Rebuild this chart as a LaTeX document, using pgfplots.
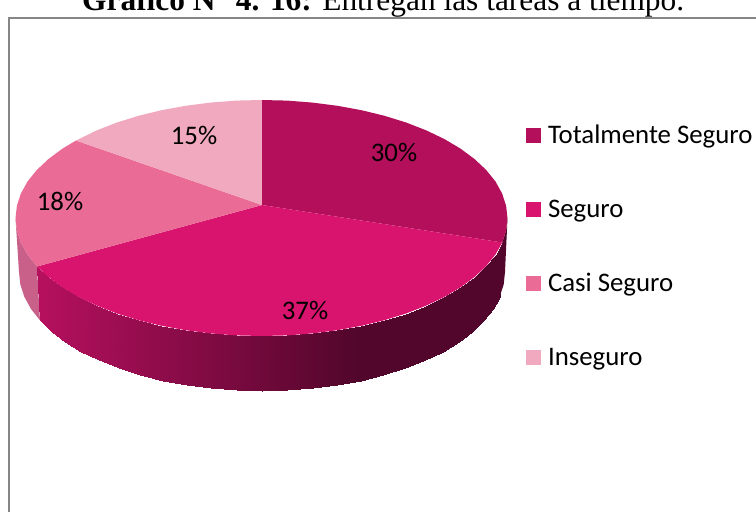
\documentclass[border=0pt]{standalone}
\usepackage{fontspec}
\usepackage{pgfplots}
\pgfplotsset{compat=1.18}
\setmainfont{Carlito}
\newfontfamily\titlefont{Liberation Serif}
\definecolor{cT}{HTML}{B40F5A}
\definecolor{cS}{HTML}{D8146E}
\definecolor{cC}{HTML}{EA6C96}
\definecolor{cI}{HTML}{F0A9BF}
\definecolor{cCside}{HTML}{C8608A}
\definecolor{cTside}{HTML}{52062B}
\definecolor{frame}{HTML}{868686}
\begin{document}
\begin{tikzpicture}
\path[use as bounding box] (0pt,0pt) rectangle (756pt,512pt);
\begin{axis}[
  at={(378pt,256pt)}, anchor=center,
  scale only axis, width=756pt, height=512pt,
  xmin=0, xmax=756, ymin=0, ymax=512, y dir=reverse,
  hide axis,
  colormap={rim}{rgb255(0cm)=(181,16,94); rgb255(1cm)=(82,6,43)},
  point meta min=40, point meta max=355,
  legend cell align=left,
  legend style={at={(axis cs:526,134.5)}, anchor=north west, draw=none, fill=none,
    font=\fontsize{26.8}{26.8}\selectfont, row sep=54.6pt, inner sep=0pt, outer sep=0pt,
    nodes={inner sep=0pt, outer sep=0pt, anchor=west}, yshift=9.2pt},
  legend image code/.code={\fill[#1] (0pt,-7.5pt) rectangle (15pt,7.5pt); \path (22pt,0pt);},
]
% frame
\addplot[frame, line width=2pt, forget plot] coordinates {(9,512) (9,18) (756,18)};
% side of the wedges
\addplot[cCside, fill=cCside, draw=none, forget plot] coordinates {(37,266.5) (27.5,254.5) (20.9,242.5) (16.9,230.3) (15.5,218) (19,272) (20.3,284.4) (24.3,296.7) (30.9,308.8) (40,320.4)} -- cycle;
\addplot[cTside, fill=cTside, draw=none, forget plot] coordinates {(507.5,218) (506.1,230.3) (502.3,242.5) (499.7,296.7) (503.7,284.4) (505,272)} -- cycle;
\addplot[surf, shader=interp, mesh/rows=2, point meta=x, forget plot] coordinates {
(502.3,242.5)(495.5,254.5)(486.2,266)(474.5,277)(460.5,287.4)(444.3,297)(426.1,305.7)(406.1,313.5)(384.5,320.2)(361.5,325.8)(337.5,330.2)(312.6,333.4)(287.2,335.4)(261.5,336)(235.8,335.4)(210.4,333.4)(185.5,330.2)(161.5,325.8)(138.5,320.2)(116.9,313.5)(96.9,305.7)(78.7,297)(62.5,287.4)(48.5,277)(37,266.5)

(499.7,296.7)(493.1,308.8)(484,320.4)(472.4,331.5)(458.6,341.9)(442.6,351.6)(424.6,360.4)(404.8,368.3)(383.5,375.1)(360.8,380.7)(337.1,385.2)(312.5,388.4)(287.4,390.3)(262,391)(236.6,390.3)(211.5,388.4)(186.9,385.2)(163.2,380.7)(140.5,375.1)(119.2,368.3)(99.4,360.4)(81.4,351.6)(65.4,341.9)(51.6,331.5)(40,320.4)
};
% top faces
\addplot[fill=cT, draw=none] coordinates {(262,205) (261.5,100) (287.2,100.6) (312.6,102.6) (337.5,105.8) (361.5,110.2) (384.5,115.8) (406.1,122.5) (426.1,130.3) (444.3,139) (460.5,148.6) (474.5,159) (486.2,170) (495.5,181.5) (502.1,193.5) (506.1,205.7) (507.5,218) (506.1,230.3) (502.3,242.5)} -- cycle;
\addlegendentry{Totalmente Seguro}
\addplot[fill=cS, draw=none] coordinates {(262,205) (502.3,242.5) (495.5,254.5) (486.2,266) (474.5,277) (460.5,287.4) (444.3,297) (426.1,305.7) (406.1,313.5) (384.5,320.2) (361.5,325.8) (337.5,330.2) (312.6,333.4) (287.2,335.4) (261.5,336) (235.8,335.4) (210.4,333.4) (185.5,330.2) (161.5,325.8) (138.5,320.2) (116.9,313.5) (96.9,305.7) (78.7,297) (62.5,287.4) (48.5,277) (37,266.5)} -- cycle;
\addlegendentry{Seguro}
\addplot[fill=cC, draw=none] coordinates {(262,205) (37,266.5) (27.5,254.5) (20.9,242.5) (16.9,230.3) (15.5,218) (16.9,205.7) (20.9,193.5) (27.5,181.5) (36.8,170) (48.5,159) (62.5,148.6) (76,140.5)} -- cycle;
\addlegendentry{Casi Seguro}
\addplot[fill=cI, draw=none] coordinates {(262,205) (76,140.5) (96.9,130.3) (116.9,122.5) (138.5,115.8) (161.5,110.2) (185.5,105.8) (210.4,102.6) (235.8,100.6) (261.5,100)} -- cycle;
\addlegendentry{Inseguro}
% data labels
\node[font=\fontsize{26.8}{26.8}\selectfont] at (axis cs:394,152) {30\%};
\node[font=\fontsize{26.8}{26.8}\selectfont] at (axis cs:305,310) {37\%};
\node[font=\fontsize{26.8}{26.8}\selectfont] at (axis cs:60,201) {18\%};
\node[font=\fontsize{26.8}{26.8}\selectfont] at (axis cs:194,135) {15\%};
% title
\node[anchor=base west, inner sep=0pt, font=\titlefont\fontsize{31.4}{31.4}\selectfont] at (axis cs:82,10.5) {\textbf{Gráfico N° 4. 16:} Entregan las tareas a tiempo.};
\end{axis}
\end{tikzpicture}
\end{document}
